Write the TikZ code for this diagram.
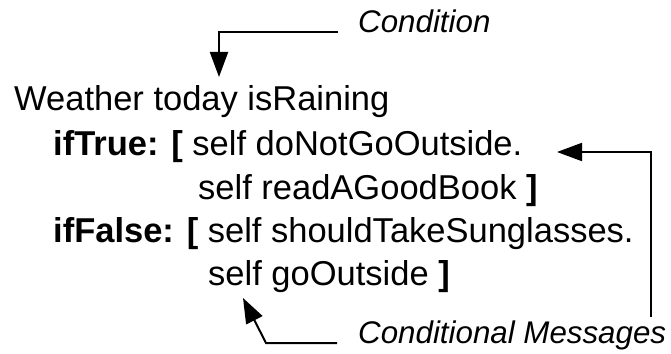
\documentclass[tikz,border=0pt]{standalone}
\usepackage{fontspec}
\setmainfont{Liberation Sans}
\usetikzlibrary{arrows.meta}
\begin{document}
\begin{tikzpicture}[x=1pt,y=-1pt,
  code/.style={anchor=base west, inner sep=0pt, font=\fontsize{34.5}{40}\selectfont},
  lbl/.style={anchor=base west, inner sep=0pt, font=\fontsize{31.3}{36}\selectfont\itshape},
  conn/.style={line width=2pt, -{Triangle[length=25pt,width=18pt]}}]
\useasboundingbox (0,0) rectangle (671,353);
\node[code] (l1) at (14,110) {Weather today isRaining};
\node[code] (l2) at (53,155) {\textbf{ifTrue: [} self doNotGoOutside.};
\node[code] (l3) at (198,199) {self readAGoodBook \textbf{]}};
\node[code] (l4) at (53,242) {\textbf{ifFalse: [} self shouldTakeSunglasses.};
\node[code] (l5) at (208,285) {self goOutside \textbf{]}};
\node[lbl] (cond) at (358,33) {Condition};
\node[lbl] (msgs) at (358,343) {Conditional Messages};
\coordinate (c0) at (338,32);
\coordinate (c1) at (219,77);
\coordinate (r0) at (651,317);
\coordinate (r1) at (557,152);
\coordinate (b0) at (337,343);
\coordinate (b1) at (266,343);
\coordinate (b2) at (243,298);
\draw[conn] (c0) -| (c1);
\draw[conn] (r0) |- (r1);
\draw[conn] (b0) -- (b1) -- (b2);
\end{tikzpicture}
\end{document}
